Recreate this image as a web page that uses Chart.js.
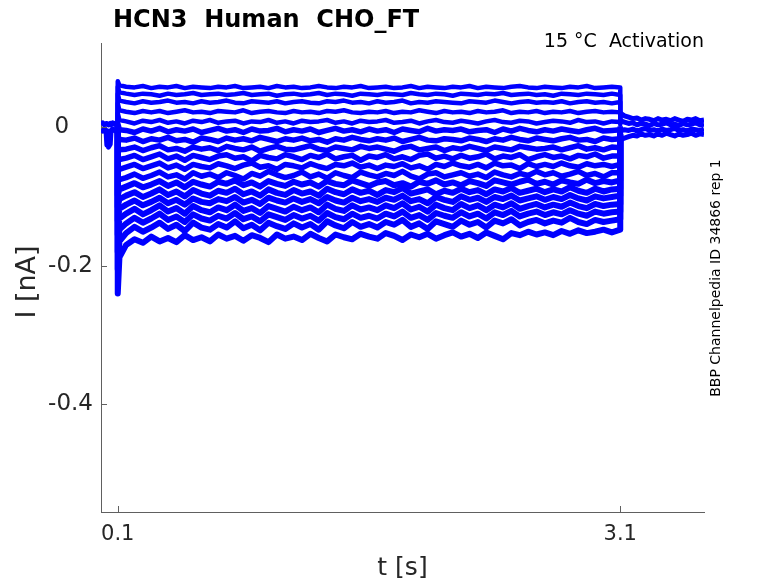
<!DOCTYPE html>
<html>
<head>
<meta charset="utf-8">
<script src="https://cdn.jsdelivr.net/npm/chart.js@4.4.1/dist/chart.umd.min.js"></script>
<style>
  html, body { margin: 0; padding: 0; background: #ffffff; }
  #wrap { position: relative; width: 778px; height: 583px; }
  canvas { display: block; }
</style>
</head>
<body>
<div id="wrap"><canvas id="c" width="778" height="583"></canvas></div>
<script>
// ---------------- data ----------------
const titleText = 'HCN3  Human  CHO_FT';
const protocolText = '15 °C  Activation';
const idText = 'BBP Channelpedia ID 34866 rep 1';
const xTitle = 't [s]';
const yTitle = 'I [nA]';

const xTicks = [0.1, 3.1];
const xTickLabels = ['0.1', '3.1'];
const yTicks = [0, -0.2, -0.4];
const yTickLabels = ['0', '-0.2', '-0.4'];

// holding period before the step: time (s), current (nA)
const baseTimes = [0, 0.01, 0.02, 0.03, 0.035, 0.045, 0.055, 0.06, 0.07, 0.08, 0.09, 0.1];
const base1 = [0.004, 0.006, 0.003, 0.005, 0.004, 0.003, 0.005, 0.003, 0.006, 0.004, 0.005, 0.004];
const base2 = [-0.004, -0.006, -0.003, -0.005, -0.026, -0.029, -0.025, -0.005, -0.003, -0.005, -0.006, -0.004];

// step period: one array per sweep (nA) at these times (s)
const stepTimes = [0.1, 0.1, 0.11,
  0.15, 0.2, 0.25, 0.3, 0.35, 0.4, 0.45, 0.5, 0.55, 0.6,
  0.65, 0.7, 0.75, 0.8, 0.85, 0.9, 0.95, 1.0, 1.05, 1.1,
  1.15, 1.2, 1.25, 1.3, 1.35, 1.4, 1.45, 1.5, 1.55, 1.6,
  1.65, 1.7, 1.75, 1.8, 1.85, 1.9, 1.95, 2.0, 2.05, 2.1,
  2.15, 2.2, 2.25, 2.3, 2.35, 2.4, 2.45, 2.5, 2.55, 2.6,
  2.65, 2.7, 2.75, 2.8, 2.85, 2.9, 2.95, 3.0, 3.05, 3.1,
  3.1];

const sweep1 = [0, .066, .060,
  .058, .057, .059, .056, .058, .057, .059, .056, .058, .057,
  .056, .058, .057, .059, .056, .057, .058, .056, .059, .057,
  .058, .056, .057, .059, .057, .056, .058, .057, .059, .056,
  .057, .058, .056, .057, .059, .056, .058, .057, .056, .058,
  .057, .059, .056, .058, .057, .056, .058, .059, .057, .056,
  .058, .057, .056, .058, .057, .059, .056, .057, .058, .057,
  .016];
const sweep2 = [0, .058, .050,
  .048, .046, .048, .047, .045, .048, .046, .047, .049, .046,
  .047, .048, .046, .047, .049, .046, .047, .048, .045, .047,
  .048, .046, .047, .049, .046, .048, .047, .045, .048, .047,
  .046, .048, .047, .046, .049, .047, .046, .048, .047, .045,
  .048, .047, .046, .048, .047, .049, .046, .047, .048, .046,
  .047, .045, .048, .047, .046, .048, .047, .046, .048, .046,
  .012];
const sweep3 = [0, .048, .038,
  .036, .034, .037, .035, .036, .038, .035, .036, .034, .037,
  .035, .036, .038, .035, .034, .037, .036, .035, .037, .034,
  .036, .037, .035, .034, .037, .036, .038, .035, .036, .034,
  .037, .035, .036, .038, .034, .036, .035, .037, .036, .035,
  .034, .037, .036, .035, .038, .036, .034, .036, .037, .035,
  .036, .035, .037, .034, .036, .037, .035, .036, .034, .036,
  .009];
const sweep4 = [0, .034, .024,
  .022, .020, .023, .021, .023, .020, .022, .024, .021, .022,
  .020, .023, .022, .021, .024, .020, .022, .023, .021, .020,
  .023, .021, .022, .020, .023, .022, .024, .021, .020, .022,
  .021, .023, .020, .022, .021, .024, .022, .020, .023, .021,
  .022, .020, .023, .021, .022, .024, .020, .022, .021, .023,
  .020, .022, .021, .023, .020, .022, .023, .021, .022, .021,
  .006];
const sweep5 = [0, .020, .010,
  .008, .005, .009, .007, .010, .006, .008, .005, .009, .007,
  .010, .006, .008, .009, .005, .008, .007, .010, .006, .008,
  .005, .009, .007, .008, .010, .006, .008, .005, .009, .007,
  .008, .010, .006, .007, .009, .005, .008, .010, .007, .006,
  .009, .007, .005, .008, .010, .007, .006, .009, .008, .005,
  .007, .009, .008, .006, .010, .007, .008, .005, .008, .007,
  .003];
const sweep6 = [0, .005, -.004,
  -.005, -.008, -.003, -.006, -.002, -.007, -.004, -.006, -.003, -.008,
  -.005, -.002, -.006, -.004, -.008, -.003, -.006, -.005, -.002, -.007,
  -.004, -.006, -.003, -.008, -.005, -.002, -.006, -.004, -.007, -.003,
  -.006, -.004, -.008, -.003, -.005, -.007, -.002, -.006, -.004, -.005,
  -.003, -.007, -.005, -.004, -.008, -.003, -.006, -.002, -.005, -.007,
  -.004, -.006, -.003, -.005, -.007, -.004, -.002, -.006, -.005, -.004,
  .001];
const sweep7 = [0, -.012, -.018,
  -.019, -.016, -.021, -.017, -.019, -.015, -.020, -.018, -.022, -.016,
  -.018, -.021, -.016, -.019, -.017, -.020, -.015, -.018, -.021, -.017,
  -.019, -.016, -.020, -.018, -.022, -.017, -.019, -.015, -.018, -.020,
  -.017, -.019, -.016, -.021, -.018, -.015, -.019, -.020, -.017, -.018,
  -.020, -.016, -.018, -.021, -.017, -.019, -.015, -.018, -.020, -.016,
  -.018, -.020, -.017, -.015, -.019, -.018, -.021, -.016, -.018, -.017,
  -.001];
const sweep8 = [0, -.028, -.033,
  -.032, -.029, -.034, -.030, -.027, -.033, -.031, -.035, -.029, -.032,
  -.030, -.034, -.028, -.031, -.033, -.029, -.035, -.031, -.028, -.032,
  -.033, -.030, -.027, -.032, -.034, -.029, -.031, -.033, -.028, -.031,
  -.029, -.032, -.035, -.030, -.028, -.033, -.031, -.029, -.034, -.030,
  -.032, -.028, -.031, -.034, -.029, -.031, -.033, -.028, -.030, -.032,
  -.031, -.029, -.033, -.030, -.027, -.032, -.030, -.033, -.029, -.030,
  -.003];
const sweep9 = [0, -.045, -.047,
  -.045, -.041, -.047, -.043, -.039, -.046, -.042, -.048, -.041, -.044,
  -.047, -.042, -.040, -.045, -.043, -.049, -.041, -.044, -.046, -.040,
  -.043, -.047, -.041, -.044, -.039, -.046, -.043, -.041, -.048, -.042,
  -.044, -.040, -.046, -.043, -.047, -.041, -.039, -.045, -.042, -.046,
  -.041, -.045, -.043, -.039, -.046, -.042, -.044, -.040, -.047, -.043,
  -.040, -.044, -.042, -.046, -.041, -.043, -.039, -.045, -.042, -.042,
  -.005];
const sweep10 = [0, -.062, -.061,
  -.058, -.054, -.060, -.056, -.052, -.059, -.055, -.061, -.054, -.057,
  -.059, -.053, -.056, -.060, -.055, -.052, -.058, -.056, -.061, -.054,
  -.056, -.059, -.053, -.057, -.060, -.054, -.056, -.052, -.058, -.055,
  -.060, -.055, -.057, -.053, -.059, -.056, -.061, -.054, -.057, -.052,
  -.056, -.058, -.054, -.059, -.052, -.056, -.055, -.060, -.053, -.057,
  -.054, -.057, -.052, -.056, -.058, -.053, -.056, -.054, -.057, -.054,
  -.006];
const sweep11 = [0, -.080, -.076,
  -.073, -.068, -.074, -.070, -.065, -.072, -.069, -.075, -.066, -.071,
  -.068, -.073, -.066, -.070, -.075, -.067, -.071, -.064, -.069, -.073,
  -.070, -.065, -.072, -.068, -.074, -.066, -.070, -.073, -.065, -.069,
  -.072, -.067, -.070, -.064, -.071, -.075, -.068, -.066, -.072, -.069,
  -.066, -.071, -.068, -.073, -.065, -.069, -.072, -.067, -.070, -.064,
  -.069, -.066, -.071, -.068, -.064, -.070, -.067, -.072, -.066, -.066,
  -.008];
const sweep12 = [0, -.098, -.090,
  -.086, -.081, -.087, -.083, -.078, -.085, -.080, -.087, -.079, -.083,
  -.086, -.079, -.082, -.077, -.084, -.080, -.086, -.078, -.082, -.085,
  -.079, -.083, -.080, -.086, -.078, -.082, -.084, -.077, -.081, -.085,
  -.080, -.078, -.084, -.081, -.086, -.079, -.082, -.077, -.083, -.080,
  -.084, -.078, -.081, -.085, -.077, -.080, -.083, -.079, -.076, -.082,
  -.079, -.083, -.077, -.080, -.082, -.076, -.081, -.078, -.080, -.077,
  -.009];
const sweep13 = [0, -.115, -.104,
  -.099, -.094, -.101, -.096, -.090, -.098, -.093, -.100, -.091, -.096,
  -.099, -.092, -.095, -.089, -.097, -.093, -.099, -.090, -.095, -.098,
  -.091, -.096, -.093, -.099, -.089, -.094, -.097, -.090, -.095, -.092,
  -.098, -.091, -.094, -.088, -.096, -.093, -.090, -.097, -.092, -.095,
  -.089, -.094, -.091, -.097, -.090, -.093, -.088, -.095, -.092, -.089,
  -.094, -.090, -.093, -.087, -.092, -.095, -.089, -.093, -.090, -.089,
  -.010];
const sweep14 = [0, -.135, -.118,
  -.112, -.106, -.113, -.108, -.102, -.110, -.105, -.112, -.103, -.108,
  -.110, -.104, -.107, -.101, -.109, -.105, -.111, -.102, -.106, -.109,
  -.103, -.108, -.104, -.110, -.101, -.106, -.109, -.102, -.107, -.104,
  -.108, -.102, -.105, -.099, -.107, -.104, -.110, -.101, -.105, -.108,
  -.100, -.105, -.102, -.108, -.101, -.104, -.099, -.106, -.103, -.100,
  -.105, -.101, -.104, -.098, -.103, -.106, -.100, -.103, -.101, -.099,
  -.011];
const sweep15 = [0, -.155, -.132,
  -.125, -.118, -.126, -.120, -.113, -.122, -.117, -.125, -.114, -.120,
  -.123, -.116, -.120, -.112, -.121, -.117, -.124, -.114, -.118, -.122,
  -.115, -.120, -.116, -.123, -.112, -.118, -.121, -.113, -.119, -.116,
  -.120, -.113, -.117, -.110, -.119, -.115, -.122, -.112, -.117, -.120,
  -.111, -.117, -.113, -.120, -.112, -.116, -.110, -.118, -.114, -.111,
  -.116, -.112, -.115, -.109, -.114, -.117, -.111, -.114, -.112, -.111,
  -.012];
const sweep16 = [0, -.180, -.148,
  -.139, -.131, -.138, -.132, -.125, -.134, -.129, -.137, -.126, -.132,
  -.135, -.128, -.132, -.124, -.133, -.129, -.136, -.126, -.130, -.134,
  -.127, -.132, -.128, -.135, -.124, -.130, -.133, -.125, -.131, -.128,
  -.132, -.125, -.129, -.122, -.131, -.127, -.134, -.124, -.128, -.131,
  -.123, -.129, -.125, -.132, -.123, -.127, -.121, -.129, -.125, -.122,
  -.127, -.123, -.126, -.120, -.125, -.128, -.122, -.125, -.123, -.122,
  -.013];
const sweep17 = [0, -.205, -.165,
  -.153, -.144, -.151, -.145, -.138, -.147, -.141, -.150, -.138, -.145,
  -.148, -.140, -.145, -.136, -.146, -.141, -.149, -.138, -.143, -.147,
  -.139, -.145, -.140, -.148, -.136, -.142, -.146, -.137, -.144, -.140,
  -.145, -.137, -.141, -.134, -.144, -.139, -.147, -.136, -.140, -.144,
  -.135, -.141, -.137, -.145, -.135, -.139, -.133, -.142, -.137, -.134,
  -.139, -.135, -.138, -.131, -.137, -.140, -.134, -.137, -.135, -.133,
  -.014];
const sweep18 = [0, -.240, -.188,
  -.170, -.162, -.167, -.158, -.165, -.160, -.166, -.156, -.163, -.159,
  -.165, -.155, -.161, -.157, -.164, -.156, -.160, -.166, -.155, -.161,
  -.158, -.163, -.154, -.160, -.165, -.155, -.159, -.162, -.154, -.158,
  -.161, -.153, -.157, -.163, -.155, -.159, -.154, -.161, -.156, -.152,
  -.158, -.154, -.160, -.152, -.157, -.162, -.153, -.156, -.151, -.155,
  -.152, -.156, -.150, -.154, -.149, -.153, -.151, -.148, -.152, -.148,
  -.015];

// return to holding after the step: time (s), current (nA)
const tailTimes = [3.1, 3.125, 3.15, 3.175, 3.2, 3.225, 3.25, 3.275, 3.3, 3.325,
  3.35, 3.375, 3.4, 3.425, 3.45, 3.475, 3.5, 3.525, 3.55, 3.575, 3.6];
const tail1 = [.020, .016, .014, .012, .013, .010, .012, .011, .009, .012,
  .010, .011, .009, .012, .010, .008, .011, .010, .012, .009, .010];
const tail2 = [.009, .007, .005, .006, .003, .005, .004, .002, .005, .003,
  .004, .006, .003, .004, .002, .005, .003, .004, .006, .003, .004];
const tail3 = [-.006, -.004, -.005, -.003, -.006, -.004, -.002, -.005, -.004, -.006,
  -.003, -.005, -.004, -.002, -.005, -.004, -.006, -.003, -.004, -.005, -.003];
const tail4 = [-.019, -.016, -.014, -.012, -.013, -.010, -.012, -.011, -.013, -.010,
  -.012, -.009, -.011, -.013, -.010, -.012, -.011, -.009, -.012, -.010, -.011];

// ---------------- chart ----------------
const sweeps = [sweep1, sweep2, sweep3, sweep4, sweep5, sweep6, sweep7, sweep8, sweep9,
  sweep10, sweep11, sweep12, sweep13, sweep14, sweep15, sweep16, sweep17, sweep18];
const bases = [base1, base2];
const tails = [tail1, tail2, tail3, tail4];

const BLUE = '#0000ff';
const FONT = "'DejaVu Sans', 'Liberation Sans', sans-serif";
const TXT = '#262626';
const AX = '#606060';

function toXY(ts, vs) {
  const out = [];
  for (let i = 0; i < Math.min(ts.length, vs.length); i++) out.push({ x: ts[i], y: vs[i] });
  return out;
}
function ds(data, w) {
  return { data, borderColor: BLUE, backgroundColor: BLUE, borderWidth: w,
    pointRadius: 0, showLine: true, fill: false, tension: 0,
    borderJoinStyle: 'round', borderCapStyle: 'butt' };
}

const datasets = [];
bases.forEach(b => datasets.push(ds(toXY(baseTimes, b), 5)));
sweeps.forEach((s, i) => datasets.push(ds(toXY(stepTimes, s), i < 5 ? 4.5 : (i < 11 ? 5.5 : 6))));
tails.forEach(t => datasets.push(ds(toXY(tailTimes, t), 5)));

const decor = {
  id: 'decor',
  afterDraw(chart) {
    const ctx = chart.ctx;
    const xs = chart.scales.x, ys = chart.scales.y;
    const a = chart.chartArea;
    ctx.save();
    ctx.strokeStyle = AX;
    ctx.lineWidth = 1;
    ctx.beginPath();
    xTicks.forEach(v => {
      const px = Math.round(xs.getPixelForValue(v)) + 0.5;
      ctx.moveTo(px, a.bottom); ctx.lineTo(px, a.bottom - 6);
    });
    yTicks.forEach(v => {
      const py = Math.round(ys.getPixelForValue(v)) + 0.5;
      ctx.moveTo(a.left, py); ctx.lineTo(a.left + 6, py);
    });
    ctx.stroke();

    ctx.fillStyle = '#000000';
    ctx.textBaseline = 'alphabetic';
    ctx.font = 'bold 24px ' + FONT;
    ctx.textAlign = 'left';
    ctx.fillText(titleText, 113, 27);

    ctx.font = '19px ' + FONT;
    ctx.textAlign = 'right';
    ctx.fillText(protocolText, a.right, 47);

    ctx.save();
    ctx.translate(716, 278);
    ctx.rotate(-Math.PI / 2);
    ctx.font = '14px ' + FONT;
    ctx.textAlign = 'center';
    ctx.textBaseline = 'middle';
    ctx.fillText(idText, 0, 0);
    ctx.restore();

    ctx.save();
    ctx.translate(28, 282);
    ctx.rotate(-Math.PI / 2);
    ctx.fillStyle = TXT;
    ctx.font = '27px ' + FONT;
    ctx.textAlign = 'center';
    ctx.textBaseline = 'middle';
    ctx.fillText(yTitle, 0, 0);
    ctx.restore();
    ctx.restore();
  }
};

new Chart(document.getElementById('c'), {
  type: 'scatter',
  data: { datasets },
  options: {
    responsive: false,
    animation: false,
    devicePixelRatio: 1,
    layout: { padding: { left: 0, top: 43, right: 74, bottom: 0 } },
    plugins: { legend: { display: false }, tooltip: { enabled: false } },
    scales: {
      x: {
        type: 'linear', min: 0, max: 3.6,
        afterBuildTicks: s => { s.ticks = xTicks.map(v => ({ value: v })); },
        afterFit: s => { s.height = 71; },
        grid: { display: false },
        border: { display: true, color: AX, width: 1 },
        ticks: {
          autoSkip: false, maxRotation: 0, padding: 2, color: TXT,
          font: { family: FONT, size: 21 },
          callback: v => xTickLabels[xTicks.indexOf(v)]
        },
        title: { display: true, text: xTitle, color: TXT, font: { family: FONT, size: 25 }, padding: { top: 0, bottom: 0 } }
      },
      y: {
        type: 'linear', min: -0.555, max: 0.121,
        afterBuildTicks: s => { s.ticks = yTicks.map(v => ({ value: v })); },
        afterFit: s => { s.width = 101; },
        grid: { display: false },
        border: { display: true, color: AX, width: 1 },
        ticks: {
          autoSkip: false, padding: 0, color: TXT,
          font: { family: FONT, size: 23 },
          callback: v => {
            const lab = yTickLabels[yTicks.indexOf(v)];
            return v === 0 ? lab + '\u2007\u2009\u2009' : lab;
          }
        },
        title: { display: false }
      }
    }
  },
  plugins: [decor]
});
</script>
</body>
</html>
